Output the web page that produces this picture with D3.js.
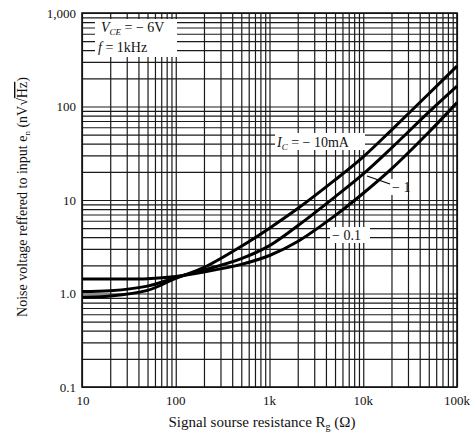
<!DOCTYPE html>
<html><head><meta charset="utf-8">
<script src="https://cdn.jsdelivr.net/npm/d3@7"></script>
<style>
html,body{margin:0;padding:0;background:#fff;}
text{font-family:"Liberation Serif","DejaVu Serif",serif;fill:#111;}
</style></head>
<body>
<svg id="c" width="476" height="442"></svg>
<script>
// ---- data ----
const resistance = [10, 20, 50, 100, 200, 500, 1000, 2000, 5000, 10000, 20000, 50000, 100000];
const noiseIc10mA = [0.92, 0.94, 1.08, 1.45, 1.9, 3.2, 5.0, 8.1, 16.4, 29, 56, 137, 270];
const noiseIc1mA  = [1.05, 1.07, 1.2, 1.48, 1.78, 2.36, 3.25, 5.3, 10.8, 19, 36, 87, 165];
const noiseIc01mA = [1.43, 1.43, 1.44, 1.52, 1.7, 2.05, 2.55, 3.6, 6.8, 11.8, 21.5, 53, 110];
const xTickValues = [10, 100, 1000, 10000, 100000];
const xTickLabels = ["10", "100", "1k", "10k", "100k"];
const yTickValues = [0.1, 1, 10, 100, 1000];
const yTickLabels = ["0.1", "1.0", "10", "100", "1,000"];

const svg = d3.select("#c");
const L = 82, R = 457, T = 13, B = 387;
const x = d3.scaleLog().domain([10, 100000]).range([L, R]);
const y = d3.scaleLog().domain([0.1, 1000]).range([B, T]);

// grid values
const xGrid = [], yGrid = [];
for (let e = 1; e <= 4; e++) for (let m = 1; m <= 9; m++) xGrid.push(m * Math.pow(10, e));
xGrid.push(100000);
for (let e = -1; e <= 2; e++) for (let m = 1; m <= 9; m++) yGrid.push(+(m * Math.pow(10, e)).toPrecision(3));
yGrid.push(1000);

const g = svg.append("g");
// grid via axes
g.append("g").attr("transform", `translate(0,${B})`)
  .call(d3.axisBottom(x).tickValues(xGrid).tickSize(-(B - T)).tickFormat(""))
  .call(s => s.select(".domain").remove())
  .call(s => s.selectAll("line").attr("stroke", "#1a1a1a").attr("stroke-width", 1.2));
g.append("g").attr("transform", `translate(${L},0)`)
  .call(d3.axisLeft(y).tickValues(yGrid).tickSize(-(R - L)).tickFormat(""))
  .call(s => s.select(".domain").remove())
  .call(s => s.selectAll("line").attr("stroke", "#1a1a1a").attr("stroke-width", 1.2));

// white box behind the condition labels
g.append("rect").attr("x", 95).attr("y", 19).attr("width", 82).attr("height", 38).attr("fill", "#fff");

// frame
g.append("rect").attr("x", L).attr("y", T).attr("width", R - L).attr("height", B - T)
  .attr("fill", "none").attr("stroke", "#111").attr("stroke-width", 1.6);

// curves
const line = d3.line().x(d => x(d[0])).y(d => y(d[1])).curve(d3.curveCatmullRom.alpha(0.5));
[noiseIc10mA, noiseIc1mA, noiseIc01mA].forEach(s => {
  g.append("path").datum(resistance.map((r, i) => [r, s[i]]))
    .attr("d", line).attr("fill", "none").attr("stroke", "#000").attr("stroke-width", 3)
    .attr("stroke-linejoin", "round");
});

// tick labels
const xl = svg.append("g");
xTickValues.forEach((v, i) => {
  xl.append("text").attr("x", x(v) + (i === 0 ? 1 : 0)).attr("y", 405)
    .attr("text-anchor", "middle").attr("font-size", 13).text(xTickLabels[i]);
});
yTickValues.forEach((v, i) => {
  xl.append("text").attr("x", 76).attr("y", y(v) + 4.5)
    .attr("text-anchor", "end").attr("font-size", 13).text(yTickLabels[i]);
});

// axis titles
const xt = svg.append("text").attr("x", 262).attr("y", 427).attr("text-anchor", "middle").attr("font-size", 15);
xt.append("tspan").text("Signal sourse resistance  R");
xt.append("tspan").attr("font-size", 10).attr("dy", 3).text("g");
xt.append("tspan").attr("dy", -3).text("  (Ω)");

const yt = svg.append("text").attr("transform", "translate(27,197) rotate(-90)")
  .attr("text-anchor", "middle").attr("font-size", 14);
yt.append("tspan").text("Noise voltage reffered to input  e");
yt.append("tspan").attr("font-size", 9).attr("dy", 3).text("n");
yt.append("tspan").attr("dy", -3).text("  (nV√");
yt.append("tspan").attr("text-decoration", "overline").text("Hz");
yt.append("tspan").text(")");

// condition labels
const t1 = svg.append("text").attr("x", 101).attr("y", 32).attr("font-size", 14).attr("font-style", "italic");
t1.append("tspan").text("V");
t1.append("tspan").attr("font-size", 9).attr("dy", 3).text("CE");
t1.append("tspan").attr("dy", -3).attr("font-style", "normal").text(" = − 6V");
svg.append("text").attr("x", 98).attr("y", 52).attr("font-size", 14)
  .html('<tspan font-style="italic">f</tspan> = 1kHz');

// curve labels
svg.append("rect").attr("x", 275).attr("y", 133).attr("width", 90).attr("height", 17).attr("fill", "#fff");
const t3 = svg.append("text").attr("x", 277).attr("y", 147).attr("font-size", 14);
t3.append("tspan").attr("font-style", "italic").text("I");
t3.append("tspan").attr("font-style", "italic").attr("font-size", 9).attr("dy", 3).text("C");
t3.append("tspan").attr("dy", -3).text(" = − 10mA");

svg.append("rect").attr("x", 391).attr("y", 179).attr("width", 17).attr("height", 16).attr("fill", "#fff");
svg.append("line").attr("x1", 367).attr("y1", 176).attr("x2", 390).attr("y2", 184)
  .attr("stroke", "#000").attr("stroke-width", 1.3);
svg.append("text").attr("x", 392).attr("y", 192).attr("font-size", 14).text("− 1");

svg.append("rect").attr("x", 330).attr("y", 227).attr("width", 40).attr("height", 16).attr("fill", "#fff");
svg.append("text").attr("x", 332).attr("y", 240).attr("font-size", 14).text("− 0.1");
</script>
</body></html>
